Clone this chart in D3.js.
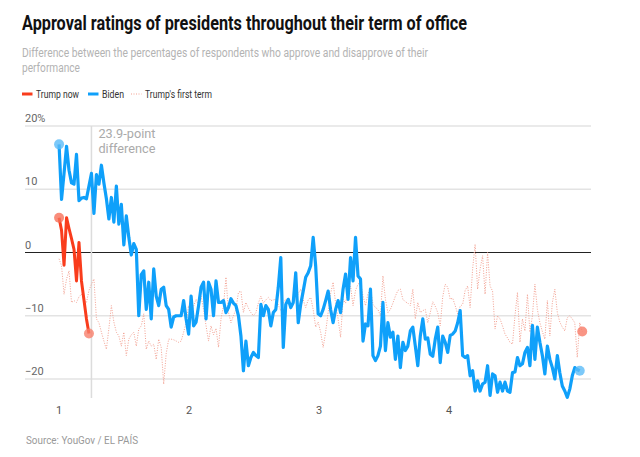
<!DOCTYPE html>
<html>
<head>
<meta charset="utf-8">
<script src="https://cdn.jsdelivr.net/npm/d3@7"></script>
<style>
  body { margin: 0; background: #fff; }
  svg { display: block; font-family: Roboto, "Open Sans", sans-serif; }
</style>
</head>
<body>
<div id="chart"></div>
<script>
// weekly poll values (approve minus disapprove), week 0 = start of term
const bidenValues = [
  17.1, 8.4, 12.5, 16.8, 13, 11, 10.8, 15.5, 8.2, 8.6,
  8.7, 8.5, 10.5, 12.5, 6.2, 12.3, 10.8, 13.8, 11, 8.5,
  5.3, 8.7, 4.8, 10.5, 4.5, 7.6, 1.2, 5.8, 2.4, -0.4,
  1.4, 0.5, -10, -3.5, -2.9, -9, -4.7, -10.5, -2.6, -6.9,
  -8.4, -5.8, -5.5, -8.4, -9, -11.8, -10.2, -10, -10, -10,
  -7.6, -10.5, -12.9, -6.9, -11.6, -11, -8.4, -5.5, -4.7, -10.5,
  -4.7, -5.8, -10, -4.5, -7.9, -7.9, -7.6, -9.5, -8.7, -7.3,
  -8, -8.4, -10, -13.2, -18.7, -14, -17.9, -16.6, -15.8, -16.3,
  -16.6, -8.2, -10, -8.4, -9, -11.6, -9.5, -9, -5.5, -0.8,
  -15, -8.2, -7.4, -8.7, -7.9, -3.2, -11.1, -8.2, -6.1, -3.9,
  -3.2, -2.1, 2.4, -2.1, -9.7, -10, -9, -7.6, -6.1, -9,
  -11.1, -9, -7.6, -9.5, -5.8, -3.4, -7.4, -0.8, -4.5, 2.4,
  -3.7, -4.2, -14, -11.3, -11.6, -5.8, -16.3, -17.1, -16.3, -14.8,
  -7.9, -15.5, -11.1, -13.4, -12.6, -16.9, -13.2, -18.2, -14.2, -15.5,
  -14.8, -12.4, -11.8, -14.8, -17.9, -13.2, -10.5, -13.7, -13.5, -16.1,
  -16.4, -13.7, -11.8, -17.4, -13.2, -14.2, -15.8, -13.1, -12.9, -12.4,
  -11.1, -9.2, -16.3, -16.6, -16.3, -19.5, -18.7, -21.9, -20.3, -21.9,
  -20.8, -20.5, -17.9, -22.6, -19.2, -19.5, -22.1, -20.5, -21.9, -20.5,
  -21.9, -22.1, -19, -18.9, -16.6, -17.9, -17.6, -15.8, -15, -17.9,
  -11.5, -16.9, -11.8, -14.2, -16.3, -19.2, -14.8, -16.9, -18.2, -20,
  -16.3, -19, -21.1, -21.9, -22.9, -21.6, -19.5, -18.2, -18.5, -18.7
];

const trumpNowValues = [5.5, 3.5, -2, 5.5, 3.8, 2.2, 0.5, -4.5, 1.6, -4.5, -7.5, -10.5, -12.8];

const trumpFirstValues = [
  -1, -2.1, -6.6, -4.2, -2.9, -7.9, -7.6, -7.9, -7, -6.6,
  -7.5, -7.9, -6, -5, -4.2, -10.5, -11.1, -12.6, -14, -15.3,
  -12, -8.4, -11, -12.6, -13.2, -14.8, -12.6, -16.3, -13.7, -13,
  -12.6, -14.8, -12.1, -11.6, -9.7, -15.3, -14, -14.8, -14.5, -16.9,
  -13.7, -15, -20.8, -16, -13.7, -13.7, -13.8, -14, -14.2, -14,
  -12.6, -11.1, -8.4, -10, -8.5, -7.4, -8.5, -6.9, -9, -11.6,
  -14, -11.6, -13, -12, -15, -10.5, -8.4, -3.9, -9.5, -11.1,
  -10, -9, -6.3, -6.1, -9.5, -7.9, -8.8, -9.5, -10, -9.5,
  -8, -6.9, -8, -7.5, -7.1, -7.6, -7.5, -7.4, -8.3, -9.2,
  -8, -7.4, -7.9, -9, -8, -7.4, -6.5, -5.8, -7.5, -8.7,
  -7.5, -7.1, -9, -11.8, -11, -12.6, -15, -12.6, -9.5, -6.5,
  -4.7, -8, -10.5, -13.4, -7.4, -8, -6, -5.3, -8.4, -6,
  -5, -4.7, -6.9, -8.4, -6.5, -5.8, -8.2, -8.7, -9, -10,
  -3.7, -7.4, -9.5, -9, -8, -6.9, -6, -5.8, -7.4, -7.8,
  -8, -8.4, -5.8, -10.5, -7.9, -9.5, -9.2, -9, -11.1, -9.5,
  -7.8, -8.5, -9.5, -11.6, -7, -5, -5.5, -7.4, -7.2, -8.4,
  -9.7, -8.5, -8.2, -6, -5.3, -8.7, -2.6, 1.3, -5.8, -2.6,
  -0.5, -6.6, 0, -5.3, -6.1, -12.1, -10, -10.5, -11.6, -12.9,
  -13.5, -14.2, -14.5, -10, -6.3, -14.2, -10.5, -12.4, -6.6, -12.6,
  -10, -5, -9, -11.1, -12.5, -13.7, -7.6, -13.2, -7.9, -5.8,
  -9.5, -11, -11.8, -12.4, -10.3, -10, -10.5, -11.1, -16.6, -11.1,
  -12.5
];

const yTicks = [-20, -10, 0, 10, 20];
const xTicks = [1, 2, 3, 4];
const annotationWeek = 13;
const annotationLines = ["23.9-point", "difference"];

const width = 640;
const height = 457;
const plot = { left: 25, right: 591, top: 126, bottom: 379 };

const blue = "#0fa0fa";
const red = "#f93c1c";
const pink = "#f3a091";

const svg = d3.select("#chart")
  .append("svg")
  .attr("width", width)
  .attr("height", height);

// week index -> year of term (1 = first day)
const weekToYear = i => 1 + i * 7 / 365.25;

const x = d3.scaleLinear()
  .domain([0.738, 5.092])
  .range([plot.left, plot.right]);

const y = d3.scaleLinear()
  .domain([-20, 20])
  .range([plot.bottom, plot.top]);

// Title and subtitle
svg.append("text")
  .attr("x", 22).attr("y", 30)
  .attr("font-size", 20).attr("font-weight", "bold").attr("fill", "#111")
  .attr("textLength", 445).attr("lengthAdjust", "spacingAndGlyphs")
  .text("Approval ratings of presidents throughout their term of office");

const subtitle = [
  ["Difference between the percentages of respondents who approve and disapprove of their", 406],
  ["performance", 58]
];
subtitle.forEach((s, i) => {
  svg.append("text")
    .attr("x", 22).attr("y", 57 + i * 15)
    .attr("font-size", 12.5).attr("fill", "#b3b3b3")
    .attr("textLength", s[1]).attr("lengthAdjust", "spacingAndGlyphs")
    .text(s[0]);
});

// Legend
const legend = [
  { label: "Trump now", color: red, x: 22, w: 43, dash: null, sw: 3 },
  { label: "Biden", color: blue, x: 88, w: 22, dash: null, sw: 3 },
  { label: "Trump's first term", color: pink, x: 131, w: 67, dash: "1,1.5", sw: 1 }
];
legend.forEach(d => {
  svg.append("line")
    .attr("x1", d.x).attr("x2", d.x + 10.5)
    .attr("y1", 94).attr("y2", 94)
    .attr("stroke", d.color).attr("stroke-width", d.sw)
    .attr("stroke-dasharray", d.dash);
  svg.append("text")
    .attr("x", d.x + 14).attr("y", 97.5)
    .attr("font-size", 10.5).attr("fill", "#333")
    .attr("textLength", d.w).attr("lengthAdjust", "spacingAndGlyphs")
    .text(d.label);
});

// Grid and y labels
svg.append("g")
  .selectAll("line")
  .data(yTicks)
  .join("line")
  .attr("x1", plot.left).attr("x2", plot.right)
  .attr("y1", d => y(d)).attr("y2", d => y(d))
  .attr("stroke", d => d === 0 ? "#222" : "#e3e3e3")
  .attr("stroke-width", d => d === 0 ? 1 : 1.3);

svg.append("g")
  .selectAll("text")
  .data(yTicks)
  .join("text")
  .attr("x", plot.left)
  .attr("y", d => y(d) - 4)
  .attr("font-size", 11).attr("fill", "#666")
  .text(d => d === 20 ? "20%" : (d < 0 ? "\u2212" + Math.abs(d) : d));

// x labels
svg.append("g")
  .selectAll("text")
  .data(xTicks)
  .join("text")
  .attr("x", d => x(d))
  .attr("y", 414)
  .attr("text-anchor", "middle")
  .attr("font-size", 11).attr("fill", "#555")
  .text(d => d);

// annotation line
const ax = x(weekToYear(annotationWeek));
svg.append("line")
  .attr("x1", ax).attr("x2", ax)
  .attr("y1", plot.top).attr("y2", 398)
  .attr("stroke", "#dcdcdc").attr("stroke-width", 1.5);

annotationLines.forEach((t, i) => {
  svg.append("text")
    .attr("x", ax + 7).attr("y", 137.5 + i * 15)
    .attr("font-size", 12).attr("fill", "#aaa")
    .attr("textLength", 57).attr("lengthAdjust", "spacingAndGlyphs")
    .text(t);
});

const line = d3.line()
  .x((d, i) => x(weekToYear(i)))
  .y(d => y(d));

// Trump first term (dotted)
svg.append("path")
  .datum(trumpFirstValues)
  .attr("d", line)
  .attr("fill", "none")
  .attr("stroke", pink)
  .attr("stroke-width", 1)
  .attr("stroke-dasharray", "1,1.5");

// Biden
svg.append("path")
  .datum(bidenValues)
  .attr("d", line)
  .attr("fill", "none")
  .attr("stroke", blue)
  .attr("stroke-width", 3.2)
  .attr("stroke-linejoin", "round");

// Trump now
svg.append("path")
  .datum(trumpNowValues)
  .attr("d", line)
  .attr("fill", "none")
  .attr("stroke", red)
  .attr("stroke-width", 3)
  .attr("stroke-linejoin", "round");

// end-point markers
const markers = [
  { values: bidenValues, i: 0, color: "#5bbcf7" },
  { values: bidenValues, i: bidenValues.length - 1, color: "#5bbcf7" },
  { values: trumpNowValues, i: 0, color: "#f8705a" },
  { values: trumpNowValues, i: trumpNowValues.length - 1, color: "#f8806c" },
  { values: trumpFirstValues, i: trumpFirstValues.length - 1, color: "#f87a66" }
];
svg.append("g")
  .selectAll("circle")
  .data(markers)
  .join("circle")
  .attr("cx", d => x(weekToYear(d.i)))
  .attr("cy", d => y(d.values[d.i]))
  .attr("r", 5)
  .attr("fill", d => d.color)
  .attr("fill-opacity", 0.8);

// source
svg.append("text")
  .attr("x", 26).attr("y", 444)
  .attr("font-size", 10.5).attr("fill", "#999")
  .attr("textLength", 112).attr("lengthAdjust", "spacingAndGlyphs")
  .text("Source: YouGov / EL PAÍS");
</script>
</body>
</html>
